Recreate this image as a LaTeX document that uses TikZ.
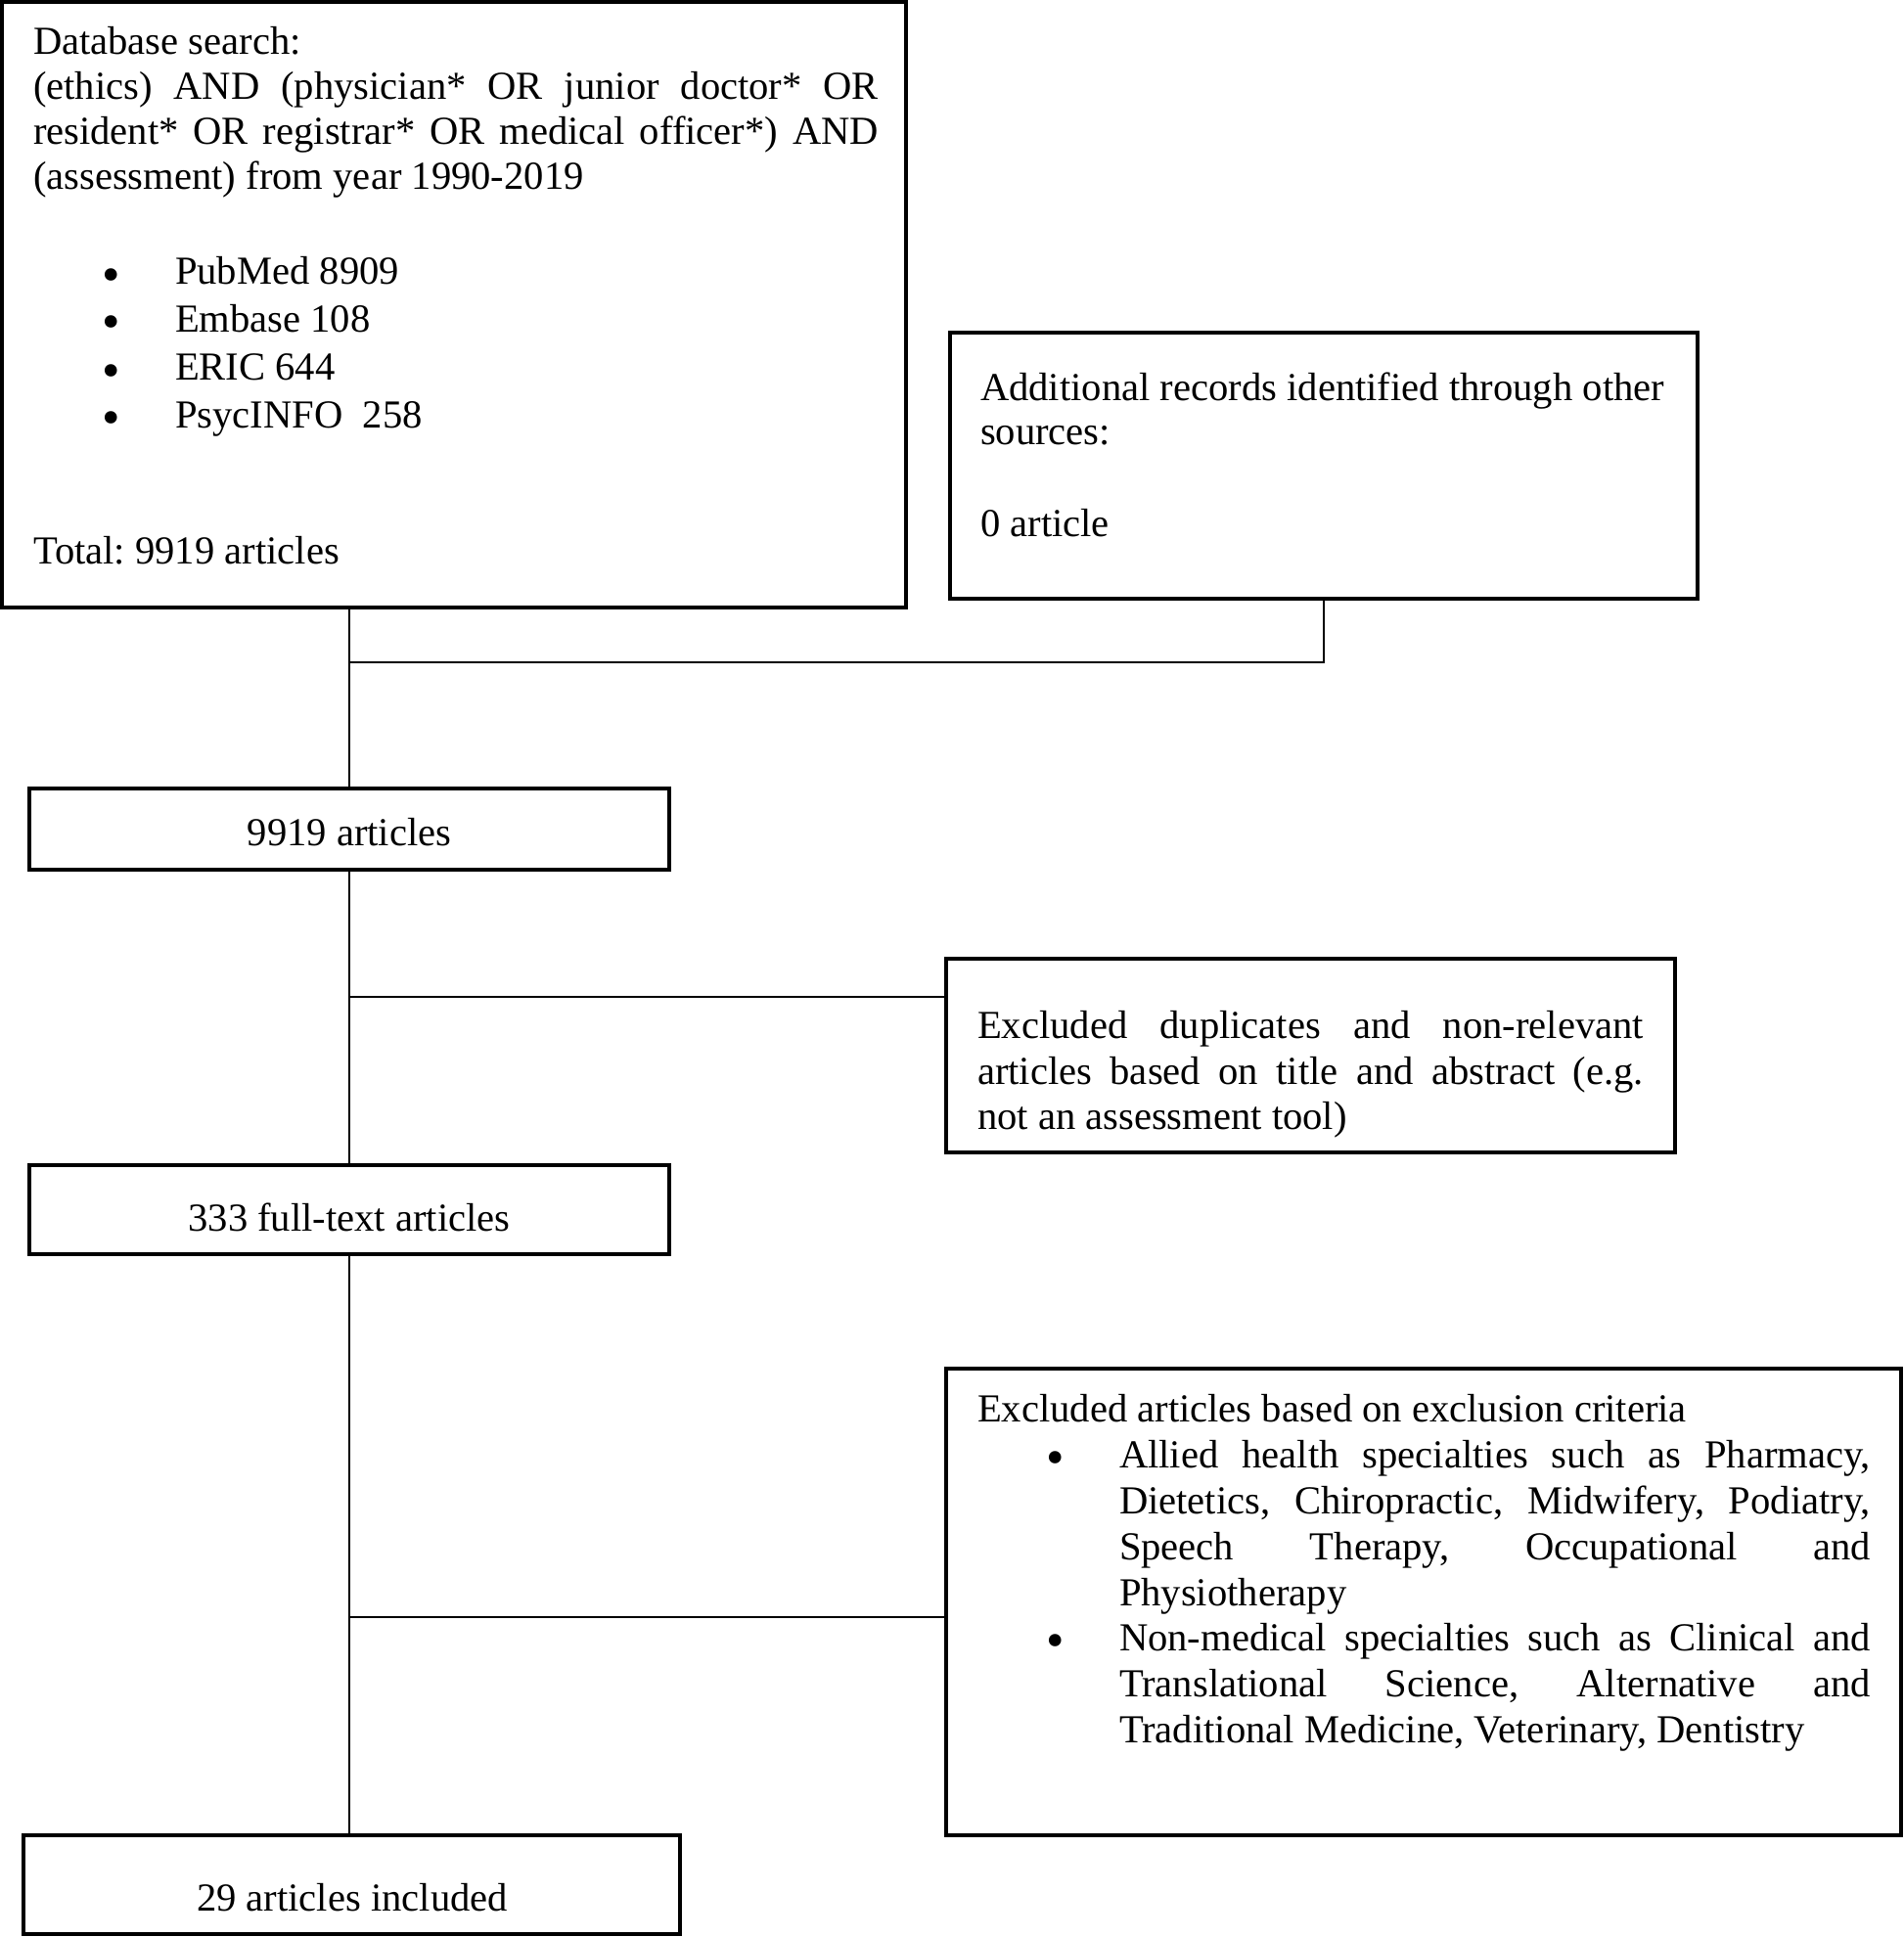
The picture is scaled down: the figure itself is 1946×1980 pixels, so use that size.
\documentclass[tikz,border=0pt]{standalone}
\usepackage{fontspec}
\setmainfont{Liberation Serif}
\frenchspacing
\newcommand{\blt}{\makebox[72.5pt][l]{\hspace*{35pt}\raisebox{-3.5pt}{\scalebox{1.3}{\textbullet}}}}
\newcommand{\ind}{\hspace*{72.5pt}}
\newcommand{\js}[2]{\makebox[#1][s]{#2}}
\begin{document}
\begin{tikzpicture}[x=0.5pt,y=-0.5pt,
  box/.style={draw, line width=2pt, inner sep=0pt, outer sep=0pt, anchor=north west},
  txt/.style={inner sep=0pt, outer sep=0pt, anchor=base west, font=\fontsize{20.3pt}{23pt}\selectfont},
  ctxt/.style={inner sep=0pt, outer sep=0pt, anchor=base, font=\fontsize{20.3pt}{23pt}\selectfont},
  conn/.style={draw, line width=1.1pt}]
\useasboundingbox (0,0) rectangle (1946,1980);

% boxes
\node[box, minimum width=462pt, minimum height=309.5pt] (b1) at (2,2) {};
\node[box, minimum width=382pt, minimum height=136pt] (b2) at (971,340) {};
\node[box, minimum width=327pt, minimum height=41.5pt] (b3) at (30,806) {};
\node[box, minimum width=372.5pt, minimum height=99pt] (b5) at (967,980) {};
\node[box, minimum width=327pt, minimum height=45.5pt] (b4) at (30,1191) {};
\node[box, minimum width=488pt, minimum height=238.5pt] (b6) at (967,1399) {};
\node[box, minimum width=335.5pt, minimum height=50.5pt] (b7) at (24,1876) {};

% texts
\node[txt] (t1) at (34,56) {\parbox[t]{432pt}{Database search:\\
\js{432pt}{(ethics) AND (physician* OR junior doctor* OR}\\
\js{432pt}{resident* OR registrar* OR medical officer*) AND}\\
(assessment) from year 1990-2019\\[25.5pt]
\blt PubMed 8909\\[1.5pt]
\blt Embase 108\\[1.5pt]
\blt ERIC 644\\[1.5pt]
\blt PsycINFO\ \ 258\\[46pt]
Total: 9919 articles}};

\node[txt] (t2) at (1002,409) {\parbox[t]{370pt}{Additional records identified through other\\[-0.5pt]
sources:\\[24pt]
0 article}};

\node[ctxt] (t3) at (357,864) {9919 articles};

\node[txt] (t5) at (999,1061) {\parbox[t]{340.5pt}{\js{340.5pt}{Excluded duplicates and non-relevant}\\[0.5pt]
\js{340.5pt}{articles based on title and abstract (e.g.}\\
not an assessment tool)}};

\node[ctxt] (t4) at (357,1258) {333 full-text articles};

\node[txt, font=\fontsize{20.3pt}{23.35pt}\selectfont] (t6) at (999,1453) {\parbox[t]{456.5pt}{Excluded articles based on exclusion criteria\\[0.6pt]
\blt\js{384pt}{Allied health specialties such as Pharmacy,}\\
\ind\js{384pt}{Dietetics, Chiropractic, Midwifery, Podiatry,}\\
\ind\js{384pt}{Speech Therapy, Occupational and}\\
\ind Physiotherapy\\
\blt\js{384pt}{Non-medical specialties such as Clinical and}\\
\ind\js{384pt}{Translational Science, Alternative and}\\
\ind Traditional Medicine, Veterinary, Dentistry}};

\node[ctxt] (t7) at (360,1953) {29 articles included};

% connectors
\coordinate (j1) at (357,677);
\coordinate (j2) at (357,1019);
\coordinate (j3) at (357,1653);
\draw[conn] (b1.south -| j1) -- (j1);
\draw[conn] (b2.south) -- (b2.south |- j1) -- (j1) -- (b3.north -| j1);
\draw[conn] (b3.south -| j2) -- (b4.north -| j2);
\draw[conn] (j2) -- (j2 -| b5.west);
\draw[conn] (b4.south -| j3) -- (b7.north -| j3);
\draw[conn] (j3) -- (j3 -| b6.west);
\end{tikzpicture}
\end{document}
